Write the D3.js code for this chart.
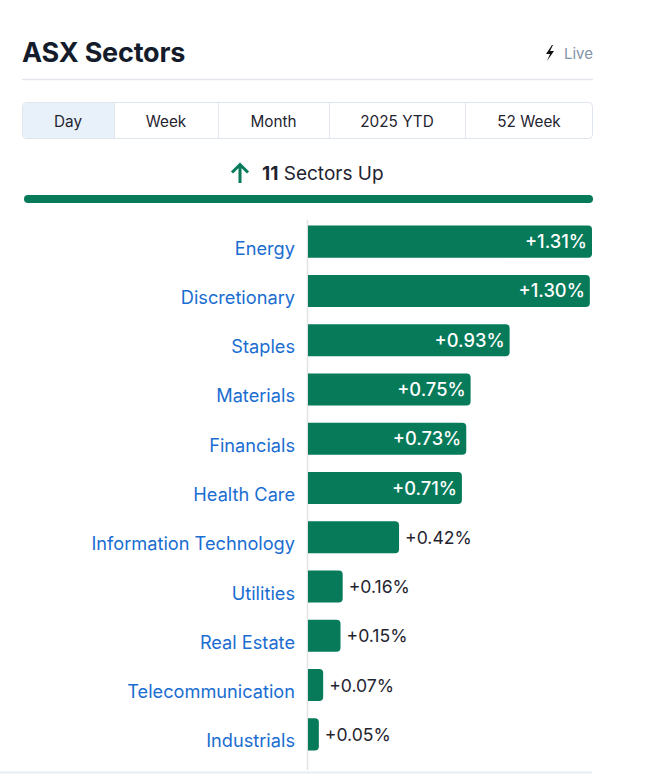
<!DOCTYPE html>
<html><head><meta charset="utf-8">
<script src="https://cdn.jsdelivr.net/npm/d3@7"></script>
<style>
html,body{margin:0;padding:0;background:#fff;}
svg{display:block;font-family:Inter,"Noto Sans",sans-serif;}
</style></head>
<body><svg id="c" width="650" height="774"></svg>
<script>
const sectors = ["Energy","Discretionary","Staples","Materials","Financials","Health Care","Information Technology","Utilities","Real Estate","Telecommunication","Industrials"];
const changes = [1.31,1.30,0.93,0.75,0.73,0.71,0.42,0.16,0.15,0.07,0.05];
const tabs = ["Day","Week","Month","2025 YTD","52 Week"];
const tabEdges = [22,114,218,329,465,593];
const upCount = 11;

const svg = d3.select("#c");
const green = "#067a59";

// Header
svg.append("text").attr("x",22).attr("y",62).attr("font-size",27).attr("font-weight",700)
  .attr("fill","#141c2b").attr("letter-spacing",-0.2).text("ASX Sectors");
svg.append("path").attr("d","M552,45 L546,54 L550,54 L547,61 L554,51 L550,51 L553,45 Z").attr("fill","#111");
svg.append("text").attr("x",593).attr("y",59).attr("text-anchor","end").attr("font-size",15)
  .attr("fill","#8494aa").text("Live");
svg.append("line").attr("x1",22).attr("x2",593).attr("y1",79.5).attr("y2",79.5).attr("stroke","#e4e8ee").attr("stroke-width",1.5);

// Tabs
const tabG = svg.append("g");
tabG.append("rect").attr("x",22.5).attr("y",102.5).attr("width",570).attr("height",36).attr("rx",4)
  .attr("fill","#fff").attr("stroke","#dfe5ec");
tabG.append("path").attr("d",`M26.5,103 H114 V138 H26.5 Q23,138 23,134.5 V106.5 Q23,103 26.5,103 Z`).attr("fill","#e8f1fa");
tabs.forEach((t,i)=>{
  if(i>0) tabG.append("line").attr("x1",tabEdges[i]+0.5).attr("x2",tabEdges[i]+0.5).attr("y1",103).attr("y2",138).attr("stroke","#e2e7ee");
  tabG.append("text").attr("x",(tabEdges[i]+tabEdges[i+1])/2).attr("y",127).attr("text-anchor","middle")
    .attr("font-size",15.3).attr("fill","#1f2430").text(t);
});

// Sectors up
svg.append("path").attr("d","M240,165 L240,183 M232,172.5 L240,164.5 L248,172.5").attr("stroke",green)
  .attr("stroke-width",3).attr("fill","none").attr("stroke-linecap","butt");
const up = svg.append("text").attr("x",262).attr("y",180).attr("font-size",19).attr("fill","#1f2430");
up.append("tspan").attr("font-weight",700).text(upCount);
up.append("tspan").text(" Sectors Up");
svg.append("rect").attr("x",24).attr("y",195).attr("width",569).attr("height",8).attr("rx",4).attr("fill",green);

// Bars
const x = d3.scaleLinear().domain([0,1.31]).range([308,592]);
const y = d3.scaleBand().domain(sectors).range([217,759]).paddingInner(0.35).paddingOuter(0.175);
svg.append("line").attr("x1",307.5).attr("x2",307.5).attr("y1",220).attr("y2",770).attr("stroke","#e2e2e2").attr("stroke-width",1.5);

const data = sectors.map((s,i)=>({s,v:changes[i]}));
const bh = y.bandwidth();
const g = svg.append("g");
g.selectAll("path.bar").data(data).join("path").attr("class","bar").attr("fill",green)
  .attr("d",d=>{
    const x0=x(0), x1=Math.max(x(d.v), x0+10), y0=y(d.s), r=4;
    return `M${x0},${y0} H${x1-r} Q${x1},${y0} ${x1},${y0+r} V${y0+bh-r} Q${x1},${y0+bh} ${x1-r},${y0+bh} H${x0} Z`;
  });
g.selectAll("text.lab").data(data).join("text").attr("class","lab")
  .attr("x",295).attr("y",d=>y(d.s)+bh/2+13).attr("text-anchor","end")
  .attr("font-size",18.2).attr("fill","#1a6dd1").text(d=>d.s);
g.selectAll("text.val").data(data).join("text").attr("class","val")
  .attr("x",d=>{const x1=Math.max(x(d.v), x(0)+10); return d.v>=0.5 ? x1-5 : x1+6;})
  .attr("text-anchor",d=>d.v>=0.5?"end":"start")
  .attr("y",d=>y(d.s)+bh/2+6.5).attr("font-size",d=>d.v>=0.5?18.3:17.6)
  .attr("font-weight",d=>d.v>=0.5?500:400)
  .attr("fill",d=>d.v>=0.5?"#fff":"#1f2430").text(d=>"+"+d.v.toFixed(2)+"%");

svg.append("line").attr("x1",0).attr("x2",592).attr("y1",772.5).attr("y2",772.5).attr("stroke","#e8edf3").attr("stroke-width",2);
</script></body></html>
